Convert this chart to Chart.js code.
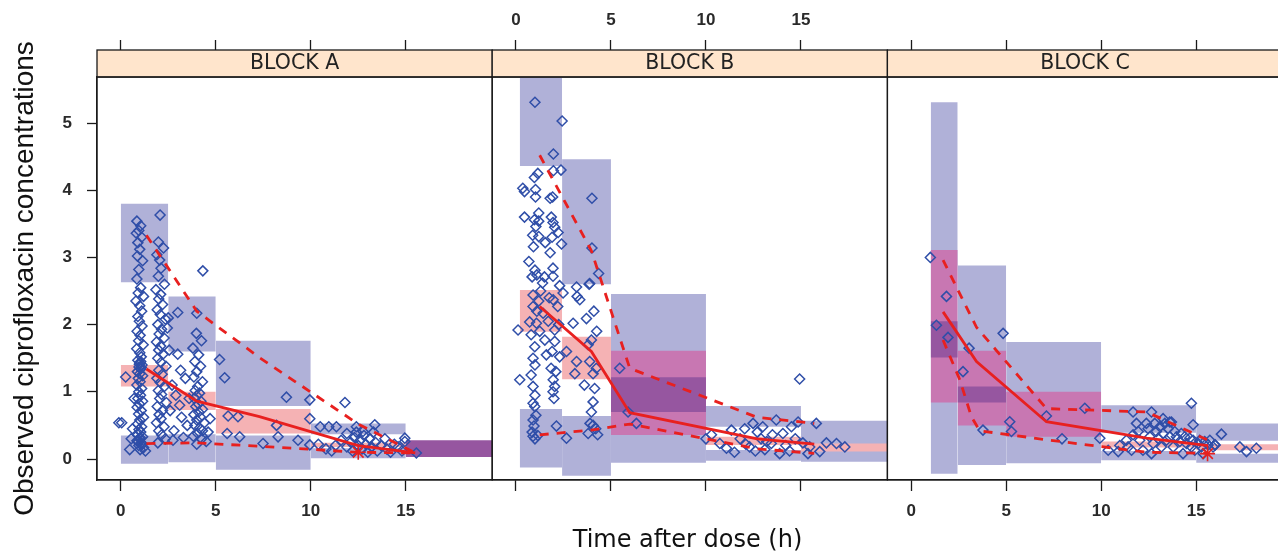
<!DOCTYPE html>
<html>
<head>
<meta charset="utf-8">
<script src="https://cdn.jsdelivr.net/npm/chart.js@4.4.1/dist/chart.umd.min.js"></script>
<style>
  html, body { margin: 0; padding: 0; background: #fff; overflow: hidden; }
  canvas { display: block; }
</style>
</head>
<body>
<canvas id="vpc" width="1278" height="554"></canvas>
<script>
// three dosing blocks side by side, each panel with its own local time axis
var PANELS = ['BLOCK A', 'BLOCK B', 'BLOCK C'];
var X_TICKS = [0, 5, 10, 15];
var Y_TICKS = [0, 1, 2, 3, 4, 5];

// observed concentrations [time (h), conc]
var OBS_A = [
  [-0.1,0.54],[0.05,0.54],[0.26,1.22],[0.47,0.14],[0.55,0.3],[0.62,0.45],[0.7,0.9],
  [0.85,3.54],[1.05,3.47],[0.95,3.40],[0.82,3.36],[1.1,3.30],[0.9,3.22],[1.0,3.12],[0.88,3.02],
  [1.15,2.95],[0.95,2.82],[0.85,2.68],[1.05,2.55],[0.92,2.47],[1.2,2.42],[0.8,2.35],[1.0,2.28],
  [1.1,2.2],[0.9,2.12],[0.98,2.05],[1.12,1.98],[0.86,1.9],[1.02,1.84],[0.94,1.76],[1.18,1.7],
  [0.84,1.64],[1.0,1.58],[1.08,1.52],[0.9,1.47],[1.0,1.43],[1.12,1.4],[0.96,1.37],[1.05,1.34],
  [0.88,1.3],[1.0,1.27],[1.15,1.24],[0.92,1.2],[1.02,1.15],[0.85,1.1],[1.1,1.05],[0.95,1.0],
  [1.04,0.95],[0.9,0.9],[1.15,0.86],[0.98,0.82],[0.86,0.77],[1.08,0.72],[0.94,0.67],[1.2,0.62],
  [1.0,0.58],[0.88,0.52],[1.1,0.48],[0.96,0.44],[1.05,0.4],[0.9,0.36],[1.15,0.33],[1.0,0.3],
  [0.85,0.27],[1.08,0.24],[0.95,0.2],[1.2,0.17],[1.02,0.14],[1.3,0.12],
  [1.05,1.45],[0.98,1.41],[1.08,1.36],[1.02,0.32],[0.92,0.26],[1.12,0.22],
  [2.07,3.63],[1.98,3.23],[2.25,3.14],[1.9,3.04],[2.05,2.96],[2.12,2.84],[1.98,2.72],[2.3,2.6],
  [1.85,2.52],[2.1,2.45],[2.0,2.38],[2.2,2.3],[1.92,2.22],[2.08,2.15],[2.35,2.08],[1.95,2.0],
  [2.15,1.93],[2.02,1.86],[2.28,1.8],[1.88,1.74],[2.1,1.68],[2.0,1.62],[2.22,1.56],[1.95,1.5],
  [2.12,1.44],[2.38,1.38],[2.0,1.32],[2.18,1.26],[1.9,1.2],[2.08,1.14],[2.3,1.08],[1.98,1.02],
  [2.15,0.96],[2.05,0.9],[2.4,0.84],[1.92,0.78],[2.2,0.72],[2.02,0.66],[2.12,0.6],[1.88,0.54],
  [2.28,0.48],[2.0,0.42],[2.15,0.36],[2.35,0.3],[1.95,0.24],
  [2.55,1.62],[2.7,1.1],[2.9,0.95],[3.0,2.18],[3.0,1.56],[3.1,0.8],[3.2,0.62],[2.8,0.42],
  [3.3,0.32],[2.6,0.72],[3.4,1.2],[3.5,0.5],[2.5,2.1],[2.45,1.95],[3.15,1.32],[2.75,0.28],[3.6,0.9],
  [4.0,2.17],[3.98,1.87],[4.25,1.76],[3.8,1.65],[4.1,1.55],[3.9,1.45],[4.2,1.38],[4.0,1.3],
  [3.85,1.22],[4.3,1.15],[4.05,1.08],[3.92,1.02],[4.15,0.98],[4.0,0.94],[3.88,0.9],[4.22,0.86],
  [4.08,0.82],[3.95,0.78],[4.3,0.74],[4.1,0.7],[3.85,0.66],[4.2,0.62],[4.0,0.58],[4.4,0.54],
  [3.9,0.5],[4.15,0.46],[4.3,0.42],[4.05,0.38],[3.82,0.34],[4.25,0.3],[4.5,0.26],[4.0,0.22],
  [4.6,0.4],[4.7,0.6],[4.32,2.8],
  [5.2,1.48],[5.47,1.21],[5.65,0.64],[6.17,0.63],[5.6,0.38],[6.26,0.33],[8.2,0.5],[8.28,0.33],
  [8.72,0.92],[9.33,0.28],[7.49,0.23],[9.95,0.88],[9.95,0.6],[9.95,0.21],[11.8,0.84],[10.5,0.48],
  [10.95,0.48],[11.35,0.48],[11.9,0.38],[12.4,0.48],[12.75,0.41],[13.37,0.51],[14.95,0.31],
  [14.95,0.26],[15.56,0.09],
  [10.4,0.22],[10.8,0.15],[11.1,0.12],[11.3,0.2],[11.6,0.28],[11.9,0.18],[12.1,0.25],[12.2,0.12],
  [12.3,0.32],[12.5,0.2],[12.6,0.28],[12.7,0.15],[12.8,0.35],[12.9,0.22],[13.0,0.1],[13.1,0.3],
  [13.2,0.18],[13.4,0.25],[13.5,0.12],[13.7,0.2],[13.9,0.3],[14.0,0.15],[14.2,0.1],[14.4,0.22],
  [14.6,0.18],[14.8,0.12],[13.3,0.4],[12.4,0.4]
];
var OBS_B = [
  [1.0,5.31],[2.43,5.03],[1.97,4.54],[2.37,4.3],[1.97,4.29],[1.15,4.25],[0.97,4.19],[0.36,4.03],
  [0.45,3.98],[1.03,4.01],[1.03,3.9],[1.93,3.9],[1.8,3.88],[0.45,3.6],[1.2,3.66],[0.97,3.56],
  [1.2,3.54],[1.86,3.6],[1.95,3.52],[1.05,3.46],[0.88,3.33],[1.2,3.31],[2.04,3.45],[2.22,3.37],
  [1.9,3.3],[1.54,3.22],[2.4,3.2],[0.92,3.16],[1.8,3.07],[0.68,2.94],[1.0,2.81],[1.95,2.84],
  [1.1,2.74],[1.5,2.71],[1.95,2.72],[0.85,2.71],[1.4,2.62],[2.3,2.58],
  [4.0,3.88],[4.0,3.14],[4.35,2.76],[3.85,2.6],[3.19,2.56],[3.22,2.42],[3.36,2.37],[3.88,2.61],
  [3.71,2.09],[3.01,2.02],[3.8,1.7],[3.97,1.77],[3.88,1.45],[4.14,1.05],[4.06,0.85],[3.97,0.7],
  [4.06,0.5],[3.9,0.53],[4.2,0.45],[3.19,1.45],[3.1,1.27],[4.06,1.27],[4.23,1.35],[2.66,1.6],
  [2.48,2.47],[4.3,0.36],[3.8,0.38],[4.1,2.2],[4.25,1.9],[3.6,1.1],
  [0.9,2.44],[0.9,2.27],[0.72,2.04],[1.08,2.02],[0.99,1.67],[0.9,1.5],[0.11,1.92],[0.2,1.18],
  [0.9,1.08],[0.9,0.83],[0.99,0.78],[0.9,0.58],[0.95,0.49],[0.9,0.34],[1.0,0.3],[2.13,0.49],
  [2.66,0.31],[2.04,1.75],[2.3,1.52],[1.96,1.18],[2.04,1.08],[1.52,1.77],[2.04,1.92],[2.2,2.27],
  [1.43,2.17],[1.96,2.37],[1.2,2.35],[1.1,2.2],[0.8,1.85],[1.25,1.9],[1.7,2.05],[1.85,1.35],
  [1.95,1.0],[1.0,0.95],[1.05,0.65],[0.85,0.4],[1.15,0.35],[2.0,0.9],[1.9,1.6],[1.0,1.4],
  [0.8,1.25],[2.1,1.3],[1.6,1.55],[2.25,2.0],[1.3,2.5],[1.75,2.4],
  [5.46,1.35],[5.9,0.70],[6.34,0.53],[10.29,0.36],[10.73,0.23],[11.08,0.16],[11.34,0.43],
  [12.04,0.45],[12.48,0.53],[12.7,0.4],[12.99,0.48],[13.7,0.58],[13.88,0.08],[13.44,0.23],
  [13.2,0.26],[12.3,0.18],[14.05,0.38],[14.5,0.48],[14.85,0.55],[14.93,1.19],[15.81,0.53],
  [15.37,0.08],[15.46,0.18],[15.99,0.11],[16.34,0.24],[16.87,0.23],[17.31,0.18],[11.8,0.3],
  [12.1,0.22],[12.9,0.3],[13.5,0.36],[14.2,0.2],[14.7,0.3],[10.0,0.3],[11.5,0.1],[12.6,0.12],
  [14.4,0.12],[15.1,0.24],[13.1,0.14]
];
var OBS_C = [
  [1.01,3.0],[1.86,2.42],[1.33,1.99],[1.94,1.81],[3.05,1.65],[4.84,1.87],[2.73,1.3],[3.78,0.43],
  [5.19,0.555],[5.28,0.41],[7.12,0.64],[7.94,0.30],[9.14,0.755],[9.93,0.31],[11.68,0.70],
  [12.65,0.70],[14.75,0.83],[14.84,0.51],[16.33,0.37],[17.3,0.18],[17.65,0.11],[18.17,0.16],
  [16.0,0.21],
  [10.37,0.13],[10.9,0.11],[10.98,0.20],[11.33,0.28],[11.42,0.18],[11.6,0.13],[11.95,0.41],
  [12.03,0.28],[12.2,0.13],[12.38,0.53],[12.47,0.45],[12.56,0.33],[12.65,0.08],[12.74,0.23],
  [12.82,0.53],[12.91,0.41],[13.0,0.31],[13.09,0.48],[13.17,0.18],[13.26,0.38],[13.35,0.53],
  [13.44,0.28],[13.52,0.45],[13.61,0.33],[13.7,0.55],[13.79,0.18],[13.87,0.41],[13.96,0.33],
  [14.14,0.26],[14.22,0.38],[14.31,0.08],[14.4,0.33],[14.49,0.23],[14.66,0.31],[14.75,0.18],
  [14.84,0.28],[14.93,0.13],[15.1,0.23],[15.19,0.28],[15.28,0.18],[15.37,0.08],[15.45,0.26],
  [15.63,0.21],[15.72,0.28],[15.89,0.18],[15.98,0.21],[11.86,0.53],[11.68,0.36],[13.26,0.60],
  [13.61,0.55]
];

// observed median and 5th/95th percentile lines
var MEDIAN_A = [[1.35,1.34],[4.0,0.86],[7.3,0.63],[12.5,0.2],[15.5,0.09]];
var P95_A = [[1.35,3.33],[4.0,2.2],[7.3,1.51],[12.5,0.52],[15.5,0.09]];
var P05_A = [[1.35,0.23],[4.0,0.24],[7.3,0.19],[12.5,0.1],[15.5,0.09]];
var MEDIAN_B = [[1.25,2.27],[3.97,1.60],[5.99,0.69],[12.7,0.3],[15.7,0.22]];
var P95_B = [[1.25,4.52],[3.97,3.1],[5.99,1.35],[12.7,0.62],[15.7,0.53]];
var P05_B = [[1.25,0.36],[3.97,0.43],[5.99,0.52],[12.7,0.15],[15.7,0.085]];
var MEDIAN_C = [[1.68,2.19],[3.44,1.45],[7.12,0.555],[12.4,0.31],[15.63,0.2]];
var P95_C = [[1.68,2.96],[3.44,1.96],[7.12,0.75],[12.4,0.7],[15.63,0.28]];
var P05_C = [[1.68,1.77],[2.56,1.18],[3.17,0.63],[3.61,0.42],[7.3,0.28],[12.4,0.1],[15.63,0.085]];

// percentiles falling outside their prediction interval
var OUT_A = [[12.5,0.1]];
var OUT_B = [];
var OUT_C = [[15.6,0.08]];

// simulated prediction intervals per time bin: [from, to, low, high, kind]
// kind: pi = 5th/95th PI, med = median PI, both / all = overlapping intervals
var BINS_A = [
  [0,2.5,2.63,3.80,'pi'],[2.5,5,1.60,2.42,'pi'],[5,10,0.79,1.76,'pi'],[10,15,0.37,0.53,'pi'],
  [0,2.5,-0.07,0.35,'pi'],[2.5,5,-0.05,0.37,'pi'],[5,10,-0.16,0.35,'pi'],[10,15,0.01,0.16,'pi'],
  [0,2.5,1.08,1.40,'med'],[2.5,5,0.73,1.00,'med'],[5,10,0.38,0.745,'med'],[10,15,0.18,0.24,'med'],
  [15,19.55,0.03,0.28,'all']
];
var BINS_B = [
  [0.2,2.43,4.36,5.9,'pi'],[2.43,5,2.60,4.46,'pi'],[5,10,-0.055,2.455,'pi'],[10,15,0.48,0.79,'pi'],
  [10,15,-0.025,0.134,'pi'],[15,19.55,-0.04,0.57,'pi'],[0.2,2.43,-0.125,0.745,'pi'],[2.43,5,-0.25,0.64,'pi'],
  [0.2,2.43,1.895,2.515,'med'],[2.43,5,1.186,1.82,'med'],[10,15,0.21,0.33,'med'],[15,19.55,0.11,0.23,'med'],
  [5,10,0.357,1.61,'both'],[5,10,0.70,1.215,'all']
];
var BINS_C = [
  [1.03,2.45,-0.22,5.31,'pi'],[2.45,5,-0.09,2.88,'pi'],[5,10,-0.065,1.74,'pi'],[10,15,0.39,0.80,'pi'],
  [10,15,-0.02,0.12,'pi'],[15,19.55,0.27,0.53,'pi'],[15,19.55,-0.055,0.08,'pi'],
  [1.03,2.45,0.84,3.11,'both'],[2.45,5,0.50,1.61,'both'],[5,10,0.33,1.00,'both'],
  [1.03,2.45,1.51,2.05,'all'],[2.45,5,0.84,1.08,'all'],
  [10,15,0.17,0.26,'med'],[15,19.55,0.13,0.22,'med']
];

var OBS = [OBS_A, OBS_B, OBS_C];
var MEDIANS = [MEDIAN_A, MEDIAN_B, MEDIAN_C];
var P95S = [P95_A, P95_B, P95_C];
var P05S = [P05_A, P05_B, P05_C];
var OUTS = [OUT_A, OUT_B, OUT_C];
var BINS = [BINS_A, BINS_B, BINS_C];

// each panel spans PANEL_RANGE in its own hours, laid end to end on one x scale
var PANEL_RANGE = [-1.25, 19.55];
var SPAN = 20.8;
var X_MIN = PANEL_RANGE[0];
var X_MAX = PANEL_RANGE[0] + 1181 / 19;

var BOX_COLORS = { pi: '#b0b1d8', med: '#f5b2b4', both: '#c877b2', all: '#9656a0' };
var BOX_ORDER = { pi: 40, med: 30, both: 30, all: 20 };
var RED = '#e8201f';
var FONT = "'Liberation Sans', Arial, sans-serif";

function shift(points, k) {
  return points.map(function (p) { return { x: p[0] + k * SPAN, y: p[1] }; });
}

var datasets = [];
PANELS.forEach(function (name, k) {
  BINS[k].forEach(function (b) {
    datasets.push({
      type: 'line',
      data: [{ x: b[0] + k * SPAN, y: b[3] }, { x: b[1] + k * SPAN, y: b[3] }],
      fill: { value: b[2] },
      backgroundColor: BOX_COLORS[b[4]],
      borderColor: 'transparent',
      borderWidth: 0,
      pointRadius: 0,
      order: BOX_ORDER[b[4]]
    });
  });
  datasets.push({
    type: 'scatter',
    data: shift(OBS[k], k),
    pointStyle: 'rectRot',
    pointRadius: 5,
    pointBorderWidth: 1.5,
    borderColor: '#2f4ea8',
    backgroundColor: 'rgba(0,0,0,0)',
    order: 10
  });
  [[MEDIANS[k], []], [P95S[k], [9, 8]], [P05S[k], [9, 8]]].forEach(function (l) {
    datasets.push({
      type: 'line',
      data: shift(l[0], k),
      borderColor: RED,
      borderWidth: 2.8,
      borderDash: l[1],
      pointRadius: 0,
      fill: false,
      tension: 0,
      order: 5
    });
  });
  datasets.push({
    type: 'scatter',
    data: shift(OUTS[k], k),
    pointStyle: 'star',
    pointRadius: 7.5,
    pointBorderWidth: 1.6,
    borderColor: RED,
    backgroundColor: RED,
    order: 1
  });
});

function panelTicks(scale) {
  var ticks = [];
  PANELS.forEach(function (n, k) {
    X_TICKS.forEach(function (t) { ticks.push({ value: t + k * SPAN }); });
  });
  scale.ticks = ticks;
}

function panelLabel(value, shown) {
  var k = Math.floor((value - PANEL_RANGE[0]) / SPAN);
  return shown.indexOf(k) >= 0 ? String(Math.round(value - k * SPAN)) : '';
}

// strips and frames for the lattice panels
var panelFrame = {
  id: 'panelFrame',
  afterDraw: function (chart) {
    var ctx = chart.ctx, area = chart.chartArea, x = chart.scales.x;
    var stripH = 27;
    ctx.save();
    PANELS.forEach(function (name, k) {
      var l = x.getPixelForValue(PANEL_RANGE[0] + k * SPAN);
      var r = x.getPixelForValue(PANEL_RANGE[1] + k * SPAN);
      ctx.fillStyle = '#ffe5cc';
      ctx.fillRect(l, area.top - stripH, r - l, stripH);
      ctx.lineWidth = 1.3;
      ctx.strokeStyle = '#1a1a1a';
      ctx.strokeRect(l, area.top - stripH, r - l, stripH);
      ctx.strokeRect(l, area.top, r - l, area.bottom - area.top);
      ctx.fillStyle = '#222';
      ctx.font = "20.5px 'DejaVu Sans', Verdana, sans-serif";
      ctx.textAlign = 'center';
      ctx.textBaseline = 'middle';
      ctx.fillText(name, (l + r) / 2, area.top - stripH / 2 + 0.5);
    });
    ctx.restore();
  }
};

var tickFont = { family: FONT, size: 17, weight: 'bold' };

new Chart(document.getElementById('vpc'), {
  type: 'scatter',
  data: { datasets: datasets },
  options: {
    responsive: false,
    animation: false,
    events: [],
    layout: { padding: 0, autoPadding: false },
    plugins: { legend: { display: false }, tooltip: { enabled: false } },
    scales: {
      x: {
        type: 'linear',
        position: 'bottom',
        min: X_MIN,
        max: X_MAX,
        afterBuildTicks: panelTicks,
        afterFit: function (s) { s.height = 74; },
        ticks: {
          autoSkip: false, maxRotation: 0, padding: 10, color: '#2a2a2a', font: tickFont,
          callback: function (v) { return panelLabel(v, [0, 2]); }
        },
        grid: { drawOnChartArea: false, tickLength: 11, tickWidth: 1.3, tickColor: '#1a1a1a' },
        border: { display: true, color: '#1a1a1a', width: 1.3 },
        title: {
          display: true, text: 'Time after dose (h)', color: '#111',
          font: { family: "'DejaVu Sans', Verdana, sans-serif", size: 24, lineHeight: 1 },
          padding: { top: 0, bottom: 1 }
        }
      },
      x2: {
        type: 'linear',
        position: 'top',
        min: X_MIN,
        max: X_MAX,
        afterBuildTicks: panelTicks,
        afterFit: function (s) { s.height = 77; },
        ticks: {
          autoSkip: false, maxRotation: 0, padding: 9, color: '#2a2a2a', font: tickFont,
          callback: function (v) { return panelLabel(v, [1]); }
        },
        grid: { drawOnChartArea: false, tickLength: 37, tickWidth: 1.3, tickColor: '#1a1a1a' },
        border: { display: true, color: '#1a1a1a', width: 1.3 }
      },
      y: {
        type: 'linear',
        position: 'left',
        min: -0.3125,
        max: 5.685,
        afterBuildTicks: function (s) { s.ticks = Y_TICKS.map(function (v) { return { value: v }; }); },
        afterFit: function (s) { s.width = 97; },
        ticks: { padding: 15, color: '#2a2a2a', font: tickFont },
        grid: { drawOnChartArea: false, tickLength: 10, tickWidth: 1.3, tickColor: '#1a1a1a' },
        border: { display: true, color: '#1a1a1a', width: 1.3 },
        title: {
          display: true, text: 'Observed ciprofloxacin concentrations', color: '#111',
          font: { family: FONT, size: 28, lineHeight: 1 },
          padding: { top: 11, bottom: 0 }
        }
      }
    }
  },
  plugins: [panelFrame]
});
</script>
</body>
</html>
